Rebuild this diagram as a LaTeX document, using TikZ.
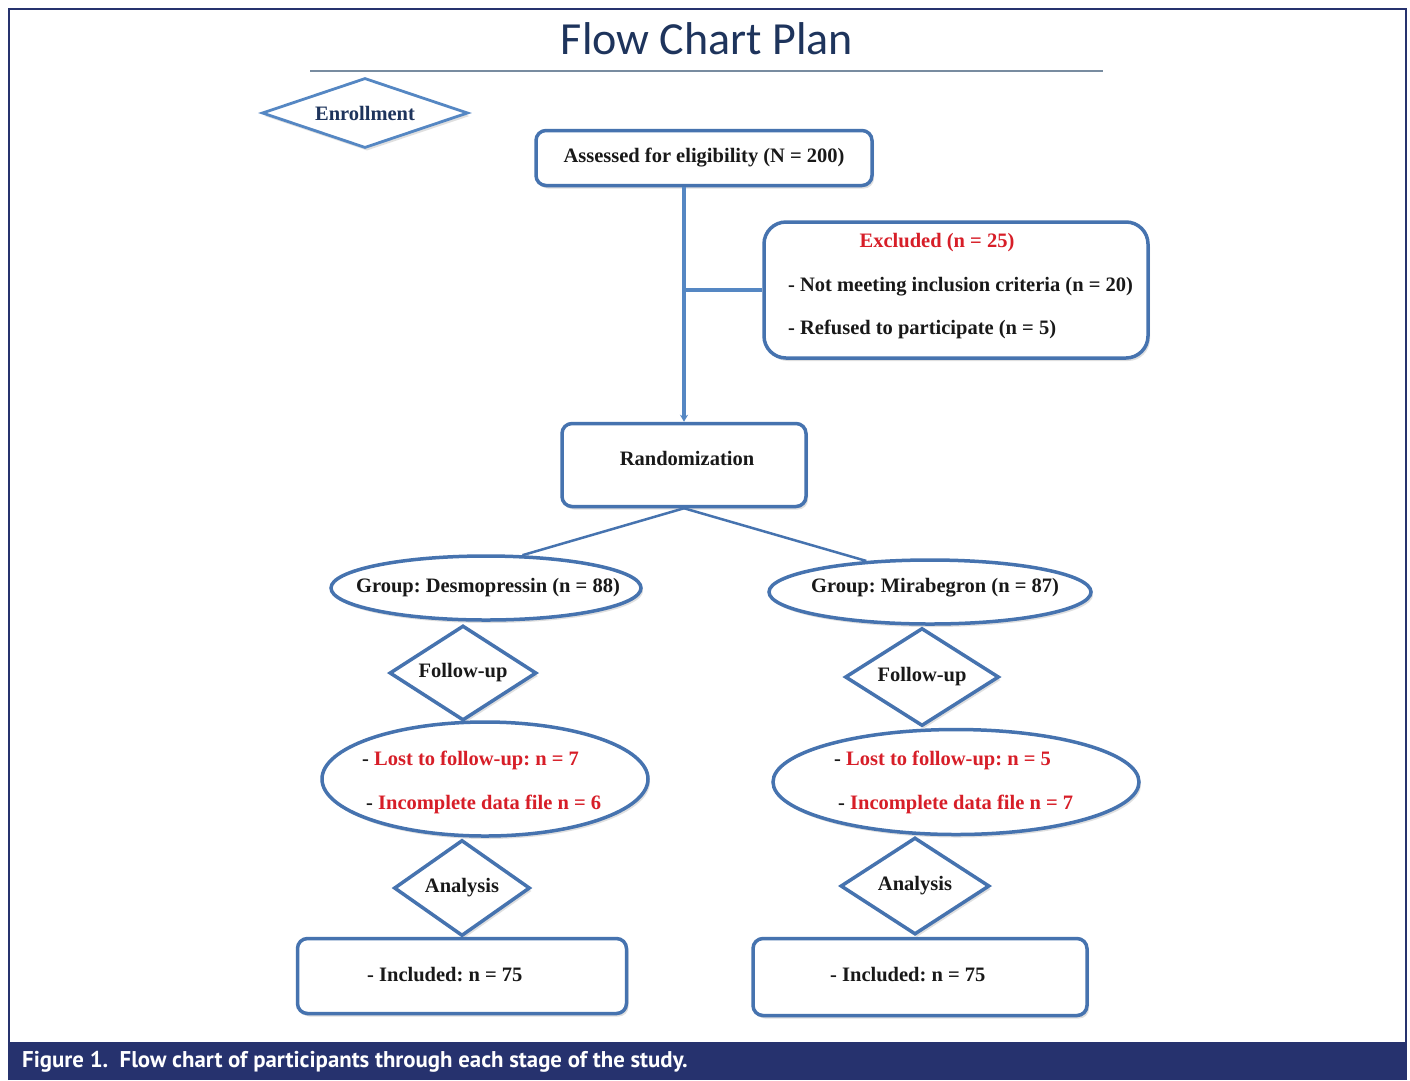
\documentclass[tikz,border=0pt]{standalone}
\usepackage{fontspec}
\setmainfont{Liberation Serif}
\newfontfamily\titlefont{Carlito}
\newfontfamily\capfont{PT Sans}
\usetikzlibrary{shapes.geometric,arrows.meta,shadows}
\definecolor{edgeblue}{RGB}{70,115,175}
\definecolor{linkblue}{RGB}{85,135,195}
\definecolor{navy}{RGB}{38,50,110}
\definecolor{titlecol}{RGB}{30,52,92}
\definecolor{redtxt}{RGB}{215,30,40}
\definecolor{txt}{RGB}{25,25,25}
\definecolor{rulecol}{RGB}{120,140,160}
\newcommand{\bodyfont}{\bfseries\fontsize{20.5}{24}\selectfont}
\tikzset{
  shade/.style={drop shadow={shadow xshift=2pt,shadow yshift=-3pt,opacity=0.25,fill=gray}},
  rbox/.style={draw=edgeblue,line width=3.5pt,fill=white,rounded corners=10pt,shade,font=\bodyfont,text=txt,inner sep=0pt},
  ell/.style={ellipse,draw=edgeblue,line width=3.5pt,fill=white,shade,inner sep=0pt,font=\bodyfont,text=txt},
  dia/.style={diamond,draw=edgeblue,line width=3.5pt,fill=white,shade,inner sep=0pt,font=\bodyfont,text=txt},
  lbl/.style={font=\bodyfont,text=txt,inner sep=0pt},
  conn/.style={draw=linkblue,line width=3.5pt},
  thin/.style={draw=edgeblue,line width=2.5pt}
}
\begin{document}
\frenchspacing
\begin{tikzpicture}[x=1pt,y=-1pt]
\useasboundingbox (0,0) rectangle (1410,1080);
\fill[white] (0,0) rectangle (1410,1080);
% frame
\draw[navy,line width=2pt] (9,1080) -- (9,9) -- (1406,9) -- (1406,1080);
% caption bar
\fill[navy] (9,1042) rectangle (1407,1080);
\node[anchor=west,text=white,font=\capfont\bfseries\fontsize{22.8}{26}\selectfont,inner sep=0pt] (cap) at (22,1062) {Figure 1.\enspace Flow chart of participants through each stage of the study.};
% title
\node[font=\titlefont\fontsize{46}{52}\selectfont,text=titlecol,inner sep=0pt] (title) at (707,39) {Flow Chart Plan};
\draw[rulecol,line width=1.2pt] (310,71) -- (1103,71);
% enrollment
\node[dia,aspect=2.94,minimum width=206pt,minimum height=70pt,line width=2.8pt,draw=linkblue,text=titlecol] (enr) at (365,113) {Enrollment};
% assessed
\node[rbox,minimum width=336pt,minimum height=55pt] (assess) at (704,158) {Assessed for eligibility (N = 200)};
% excluded
\node[rbox,rounded corners=22pt,minimum width=384pt,minimum height=136pt] (excl) at (956,290) {};
\node[lbl,text=redtxt] (exh) at (937,243) {Excluded (n = 25)};
\node[lbl,anchor=west] (ex1) at (788,287) {- Not meeting inclusion criteria (n = 20)};
\node[lbl,anchor=west] (ex2) at (788,329) {- Refused to participate (n = 5)};
% randomization
\node[rbox,minimum width=244pt,minimum height=83pt] (rand) at (684,465) {};
\node[lbl] (randt) at (687,458) {Randomization};
% connectors top
\draw[conn,-{Stealth[length=7pt,width=8pt]}] (rand.north |- assess.south) -- (rand.north);
\draw[conn,line width=4.5pt] (rand.north |- excl.west) -- (excl.west);
% groups
\node[ell,minimum width=310pt,minimum height=64pt] (g1) at (486,588) {};
\node[lbl] (g1t) at (488,588) {Group: Desmopressin (n = 88)};
\node[ell,minimum width=322pt,minimum height=64pt] (g2) at (930,592) {};
\node[lbl] (g2t) at (935,588) {Group: Mirabegron (n = 87)};
\draw[thin] (rand.south) -- (g1.42);
\draw[thin] (rand.south) -- (g2.154);
% follow-up
\node[dia,aspect=1.55,minimum width=147pt,minimum height=95pt] (f1) at (463,673) {Follow-up};
\node[dia,aspect=1.57,minimum width=154pt,minimum height=98pt] (f2) at (922,677) {Follow-up};
% lost ellipses
\node[ell,minimum width=326pt,minimum height=114pt] (l1) at (485,779) {};
\node[lbl,anchor=west] (l1a) at (362,760) {- \textcolor{redtxt}{Lost to follow-up: n = 7}};
\node[lbl,anchor=west] (l1b) at (366,804) {- \textcolor{redtxt}{Incomplete data file n = 6}};
\node[ell,minimum width=366pt,minimum height=105pt] (l2) at (956,782) {};
\node[lbl,anchor=west] (l2a) at (834,760) {- \textcolor{redtxt}{Lost to follow-up: n = 5}};
\node[lbl,anchor=west] (l2b) at (838,804) {- \textcolor{redtxt}{Incomplete data file n = 7}};
% analysis
\node[dia,aspect=1.42,minimum width=136pt,minimum height=96pt] (a1) at (462,888) {Analysis};
\node[dia,aspect=1.54,minimum width=149pt,minimum height=97pt] (a2) at (915,886) {Analysis};
% included
\node[rbox,minimum width=329pt,minimum height=75pt] (i1) at (462,976) {};
\node[lbl,anchor=west] (i1t) at (367,975) {- Included: n = 75};
\node[rbox,minimum width=334pt,minimum height=77pt] (i2) at (920,977) {};
\node[lbl,anchor=west] (i2t) at (830,975) {- Included: n = 75};
\end{tikzpicture}
\end{document}
